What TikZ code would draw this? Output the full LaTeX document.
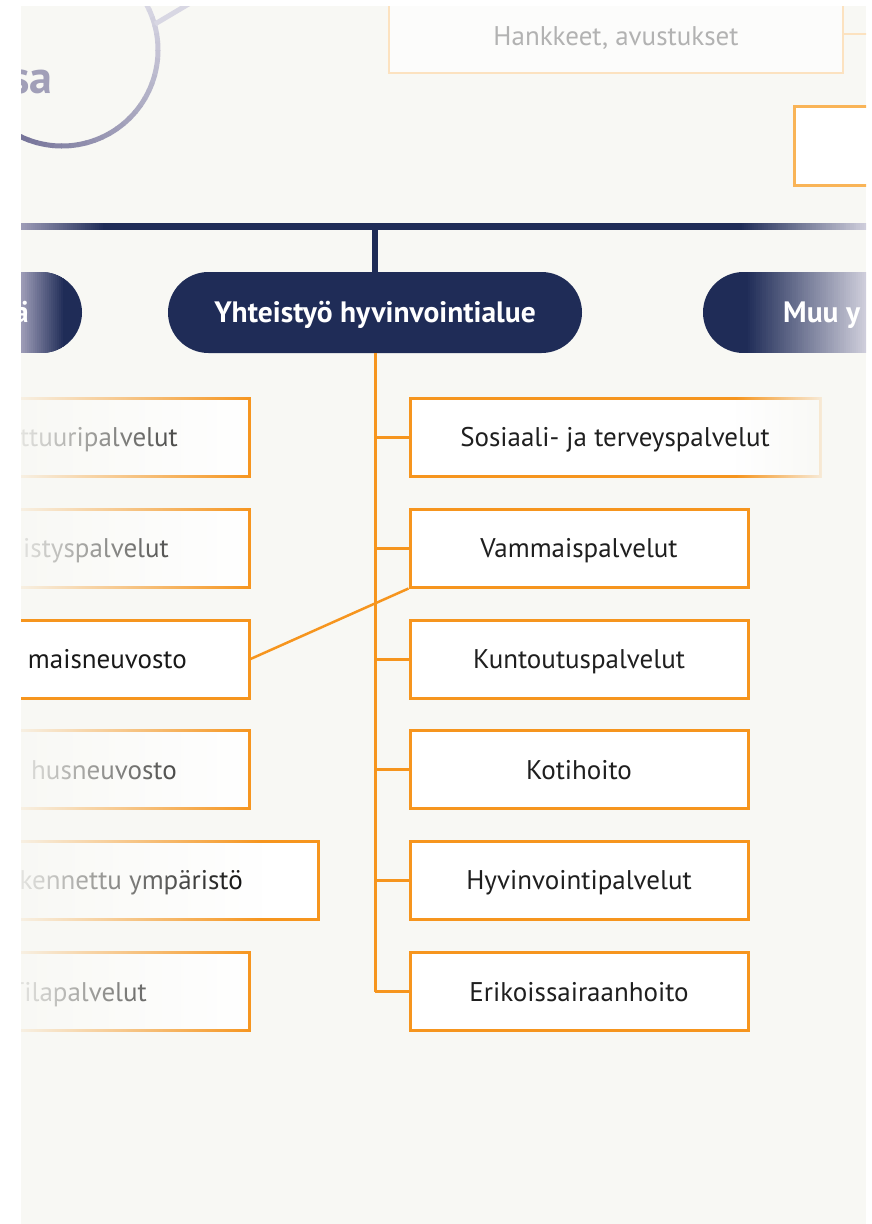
\documentclass[tikz,border=0pt]{standalone}
\usepackage{fontspec}
\setmainfont{PT Sans}
\usetikzlibrary{fadings}
\definecolor{bgc}{HTML}{F8F8F4}
\definecolor{navy}{HTML}{1F2C57}
\definecolor{org}{HTML}{F6951E}
\definecolor{orgpale}{HTML}{FCE2C0}
\definecolor{orgmid}{HTML}{F9B457}
\definecolor{lilacdark}{HTML}{77759A}
\definecolor{lilaclight}{HTML}{D8D7E3}
\definecolor{lilactext}{HTML}{A19FB8}
\definecolor{navylight}{HTML}{9C9BB6}
\definecolor{navypale}{HTML}{D0CFDC}
\tikzfading[name=fadeleft, left color=transparent!8, middle color=transparent!30, right color=transparent!100]
\tikzfading[name=faderight, left color=transparent!100, right color=transparent!12]
\begin{document}
\begin{tikzpicture}[x=1pt,y=-1pt,
  txt/.style={font=\fontsize{27}{30}\selectfont, inner sep=0pt},
  box/.style={draw=org, line width=3pt, fill=white, minimum height=78pt, inner sep=0pt,
    font=\fontsize{27}{30}\selectfont, text=black!88, text height=19pt, text depth=0pt},
  pillbox/.style={fill=navy, rounded corners=40.5pt, minimum height=81pt, inner sep=0pt,
    text=white, font=\bfseries\fontsize{29.5}{32}\selectfont, text height=20pt, text depth=0pt},
  conn/.style={draw=org, line width=3pt}]
\useasboundingbox (0,0) rectangle (872,1224);
\fill[white] (0,0) rectangle (872,1224);
\fill[bgc] (21,6) rectangle (866,1224);
\begin{scope}
\clip (21,6) rectangle (866,1224);
% circle (partly visible)
\foreach \a in {-40,-35,...,120}{
  \pgfmathtruncatemacro\p{max(0,min(100,(\a+30)/140*100))}
  \draw[draw=lilacdark!\p!lilaclight, line width=5pt]
    plot[domain=\a:\a+5.5, samples=5] ({62+96*cos(\x)},{50+96*sin(\x)});
}
\coordinate (cbranch) at (155,24);
\coordinate (cbranchend) at (192,2);
\draw[lilaclight, line width=5pt] (cbranch) -- (cbranchend);
\node[anchor=base east, inner sep=0pt, text=lilactext, font=\bfseries\fontsize{46}{50}\selectfont] (sa) at (53,93) {sa};
% top faded box
\node[draw=orgpale, line width=2.5pt, fill=white!60!bgc, minimum width=454pt, minimum height=78pt, inner sep=0pt] (hank) at (616,34) {};
\node[txt, text=black!30, text height=19pt, text depth=0pt] (hankt) at (616,36) {Hankkeet, avustukset};
\coordinate (hankend) at (870,34);
\draw[orgpale, line width=2.5pt] (hank.east) -- (hankend);
% small right box
\node[draw=orgmid, line width=3pt, fill=white, minimum width=110pt, minimum height=79pt, inner sep=0pt] (small) at (849,145.5) {};
% navy horizontal line with faded ends
\fill[navy] (105,223) rectangle (742,230);
\foreach \i in {0,...,41}{
  \pgfmathtruncatemacro\p{\i/41*100}
  \fill[navy!\p!navylight] ({21+\i*2},223) rectangle ({21+\i*2+2.4},230);
}
\foreach \i in {0,...,63}{
  \pgfmathtruncatemacro\p{100-\i/63*100}
  \fill[navy!\p!navypale] ({740+\i*2},223) rectangle ({740+\i*2+2.4},230);
}
% pills
\node[pillbox, minimum width=414pt] (pill) at (375,312.5) {Yhteistyö hyvinvointialue};
\coordinate (lineTop) at (375,226);
\draw[navy, line width=6pt] (lineTop) -- (pill.north);
% left pill (partly visible)
\begin{scope}
  \clip (-20,272) -- (41.5,272) arc[start angle=-90, end angle=90, radius=40.5] -- (-20,353) -- cycle;
  \fill[navy] (21,272) rectangle (90,353);
  \foreach \i in {0,...,21}{
    \pgfmathtruncatemacro\p{\i/21*100}
    \fill[navy!\p!navylight] ({21+\i*2},272) rectangle ({21+\i*2+2.4},353);
  }
\end{scope}
\node[anchor=base east, inner sep=0pt, text=white, font=\bfseries\fontsize{29.5}{32}\selectfont] (lp) at (29,322.5) {ä};
% right pill (partly visible)
\begin{scope}
  \clip (900,272) -- (743.5,272) arc[start angle=270, end angle=90, radius=40.5] -- (900,353) -- cycle;
  \fill[navy] (700,272) rectangle (748,353);
  \foreach \i in {0,...,60}{
    \pgfmathtruncatemacro\p{100-\i/60*100}
    \fill[navy!\p!navypale] ({746+\i*2},272) rectangle ({746+\i*2+2.4},353);
  }
\end{scope}
\node[anchor=base west, inner sep=0pt, text=white, font=\bfseries\fontsize{29.5}{32}\selectfont] (rp) at (783,322.5) {Muu y};
% right column boxes
\node[box, minimum width=410pt] (r1) at (615,437) {};
\node[box, minimum width=338pt] (r2) at (579,548) {Vammaispalvelut};
\node[box, minimum width=338pt] (r3) at (579,659) {Kuntoutuspalvelut};
\node[box, minimum width=338pt] (r4) at (579,769.5) {Kotihoito};
\node[box, minimum width=338pt] (r5) at (579,880) {Hyvinvointipalvelut};
\node[box, minimum width=338pt] (r6) at (579,991.5) {Erikoissairaanhoito};
\fill[bgc, path fading=faderight] (736,394) rectangle (823,479);
\node[txt, text=black!88, text height=19pt, text depth=0pt] (r1t) at (r1.center) {Sosiaali- ja terveyspalvelut};
% orange trunk
\draw[conn] (pill.south) -- (pill.south |- r6.west);
\foreach \n in {r1,r2,r3,r4,r5,r6}{
  \draw[conn] (pill.south |- \n.west) -- (\n.west);
}
% left column boxes (faded)
\node[box, minimum width=309pt] (l1) at (94.5,437) {};
\node[box, minimum width=309pt] (l2) at (94.5,548) {};
\node[box, minimum width=309pt] (l4) at (94.5,769.5) {};
\node[box, minimum width=378pt] (l5) at (129,880) {};
\node[box, minimum width=309pt] (l6) at (94.5,991.5) {};
\node[txt, anchor=base east] (l1t) at (178,446.5) {ttuuripalvelut};
\node[txt, anchor=base east] (l2t) at (169,557.5) {istyspalvelut};
\node[txt, anchor=base east] (l4t) at (177,779) {husneuvosto};
\node[txt, anchor=base east] (l5t) at (243,889.5) {kennettu ympäristö};
\node[txt, anchor=base east] (l6t) at (147,1001) {Tilapalvelut};
\foreach \yy in {437,548,769.5,991.5}{
  \fill[bgc, path fading=fadeleft] (21,\yy-42) rectangle (252,\yy+42);
}
\fill[bgc, path fading=fadeleft] (21,880-42) rectangle (262,880+42);
% Vammaisneuvosto (full)
\node[box, minimum width=309pt] (l3) at (94.5,659) {};
\node[txt, anchor=base east, text=black!90] (l3t) at (187,668.5) {maisneuvosto};
\draw[conn, line width=2.5pt] (l3.east) -- (r2.south west);
\end{scope}
\end{tikzpicture}
\end{document}
